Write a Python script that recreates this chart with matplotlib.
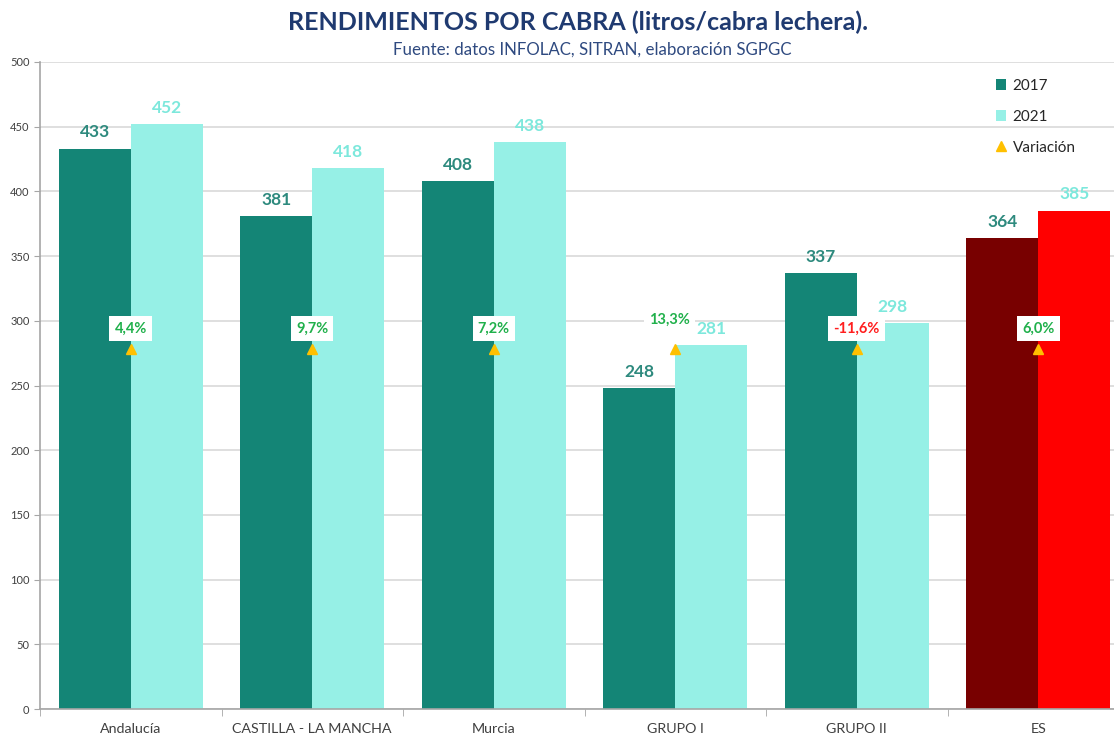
import numpy as np
import matplotlib
matplotlib.use("Agg")
from matplotlib import pyplot as plt

plt.rcParams['font.family'] = ['Lato', 'DejaVu Sans']

# Data
regions = ["Andalucía", "CASTILLA - LA MANCHA", "Murcia", "GRUPO I", "GRUPO II", "ES"]
y2017 = [433, 381, 408, 248, 337, 364]
y2021 = [452, 418, 438, 281, 298, 385]
variacion = [4.4, 9.7, 7.2, 13.3, -11.6, 6.0]
yticks = list(range(0, 501, 50))

# Styles
C17 = "#148576"
C21 = "#96F0E6"
C17_ES = "#780000"
C21_ES = "#FF0000"
LBL17 = "#2E8A7E"
LBL21 = "#7DE8DC"
GREEN = "#20B04B"
RED = "#FF1E1E"
ORANGE = "#FFC000"
GRID = "#D9D9D9"
TXT = "#404040"
MARKER_LEVEL = 278  # variation markers sit at a fixed height

fig = plt.figure(figsize=(11.14, 7.35), dpi=100)
ax = fig.add_axes([40 / 1114, 26 / 735, 1089 / 1114, 647 / 735])

x = np.arange(len(regions))
w = 0.397
cols17 = [C17] * 5 + [C17_ES]
cols21 = [C21] * 5 + [C21_ES]
b17 = ax.bar(x - w / 2, y2017, w, color=cols17, zorder=2, label="2017")
b21 = ax.bar(x + w / 2, y2021, w, color=cols21, zorder=2, label="2021")

for xi, v in zip(x, y2017):
    ax.annotate(str(v), (xi - w / 2, v), xytext=(0, 6), textcoords="offset points",
                ha="center", va="bottom", fontsize=12.5, fontweight="bold", color=LBL17, zorder=4)
for xi, v in zip(x, y2021):
    ax.annotate(str(v), (xi + w / 2, v), xytext=(0, 6), textcoords="offset points",
                ha="center", va="bottom", fontsize=12.5, fontweight="bold", color=LBL21, zorder=4)

# Variation markers and labels
mk, = ax.plot(x, [MARKER_LEVEL] * len(x), linestyle="none", marker="^", markersize=7,
              color=ORANGE, zorder=5, label="Variación")
for i, (xi, v) in enumerate(zip(x, variacion)):
    txt = f"{v:.1f}%".replace(".", ",")
    dx, dy = (-4, 21) if regions[i] == "GRUPO I" else (0, 15)
    ax.annotate(txt, (xi, MARKER_LEVEL), xytext=(dx, dy), textcoords="offset points",
                ha="center", va="center", fontsize=10.5, fontweight="bold",
                color=GREEN if v >= 0 else RED, zorder=6,
                bbox=dict(boxstyle="square,pad=0.35", fc="white", ec="none"))

# Axes styling
ax.set_xlim(-0.5, len(regions) - 0.5)
ax.set_ylim(0, 500)
ax.set_yticks(yticks)
ax.yaxis.grid(True, color=GRID, linewidth=1.2, zorder=0)
ax.set_axisbelow(True)
for s in ["top", "right"]:
    ax.spines[s].set_visible(False)
for s in ["left", "bottom"]:
    ax.spines[s].set_color("#A6A6A6")
    ax.spines[s].set_linewidth(1.2)
ax.tick_params(axis="y", labelsize=8, colors="#A6A6A6", labelcolor=TXT, length=4)
ax.set_xticks(x)
ax.set_xticklabels(regions, fontsize=10.3, color=TXT)
ax.tick_params(axis="x", length=0, pad=10)
ax.set_xticks(np.arange(len(regions) + 1) - 0.5, minor=True)
ax.tick_params(axis="x", which="minor", length=5, color="#A6A6A6")

leg = ax.legend(handles=[b17, b21, mk], loc="upper left", bbox_to_anchor=(0.865, 0.995),
                frameon=False, fontsize=11, handlelength=0.7, handleheight=0.7,
                labelspacing=1.1, handletextpad=0.4)
for t in leg.get_texts():
    t.set_color("#262626")

fig.text(0.519, 0.970, "RENDIMIENTOS POR CABRA (litros/cabra lechera).", ha="center", va="center",
         fontsize=18, fontweight="bold", color="#1F3A70")
fig.text(0.532, 0.932, "Fuente: datos INFOLAC, SITRAN, elaboración SGPGC", ha="center", va="center",
         fontsize=12.2, color="#2F4A80")

fig.savefig("out.png", dpi=100)
